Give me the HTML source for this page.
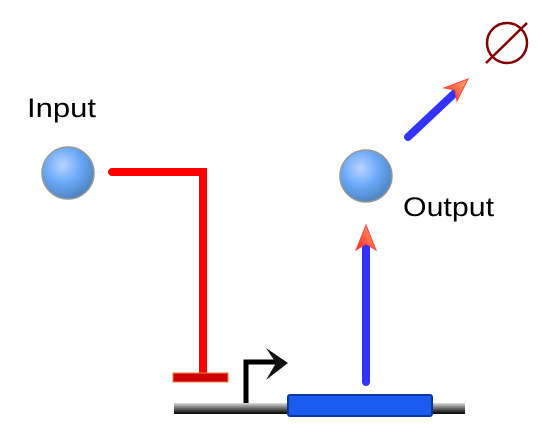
<!DOCTYPE html>
<html><head><meta charset="utf-8"><style>body{margin:0;background:#fff}svg{display:block}</style></head><body>
<svg width="540" height="438" viewBox="0 0 540 438">
<defs>
<radialGradient id="ball" cx="0.4" cy="0.35" r="0.7"><stop offset="0" stop-color="#b8d4ff"/><stop offset="0.5" stop-color="#6aa8f8"/><stop offset="1" stop-color="#4a7fb8"/></radialGradient>
<linearGradient id="bb" x1="0" y1="0" x2="0" y2="1"><stop offset="0" stop-color="#ddd"/><stop offset="0.5" stop-color="#666"/><stop offset="1" stop-color="#000"/></linearGradient>
<linearGradient id="head" x1="0" y1="1" x2="1" y2="0"><stop offset="0" stop-color="#ff2020"/><stop offset="1" stop-color="#ffb070"/></linearGradient>
</defs>
<text x="27" y="117" font-family="Liberation Sans, sans-serif" font-size="27" textLength="69" lengthAdjust="spacingAndGlyphs" fill="#000">Input</text>
<text x="403" y="216" font-family="Liberation Sans, sans-serif" font-size="27" textLength="91" lengthAdjust="spacingAndGlyphs" fill="#000">Output</text>
<circle cx="68" cy="173" r="26" fill="url(#ball)" stroke="#999" stroke-width="1.5"/>
<circle cx="366" cy="176" r="26" fill="url(#ball)" stroke="#999" stroke-width="1.5"/>
<polyline points="112,172 203,172 203,374" fill="none" stroke="#f00" stroke-width="8" stroke-linecap="round"/>
<rect x="173" y="373" width="55" height="9" fill="#cc0000" stroke="#f08040" stroke-width="1"/>
<rect x="174" y="403" width="291" height="11" fill="url(#bb)"/>
<polyline points="246,403 246,362 278,362" fill="none" stroke="#000" stroke-width="5"/>
<polygon points="266,348 288,363 266,380 276,363" fill="#111"/>
<rect x="288" y="395" width="144" height="21" rx="2" fill="#1a5cf0" stroke="#0a3a9a" stroke-width="2"/>
<line x1="366" y1="382" x2="366" y2="245" stroke="#3333ff" stroke-width="8" stroke-linecap="round"/>
<polygon points="366,225 356,250 366,244 376,250" fill="url(#head)" stroke="#f44" stroke-width="1"/>
<line x1="408" y1="137" x2="458" y2="90" stroke="#3333ff" stroke-width="8" stroke-linecap="round"/>
<polygon points="468,79 444,88 455,90 457,101" fill="url(#head)" stroke="#f44" stroke-width="1"/>
<circle cx="507" cy="43" r="20" fill="none" stroke="#800000" stroke-width="2.5"/>
<line x1="486" y1="63" x2="527" y2="23" stroke="#800000" stroke-width="2.5"/>
</svg>
</body></html>
